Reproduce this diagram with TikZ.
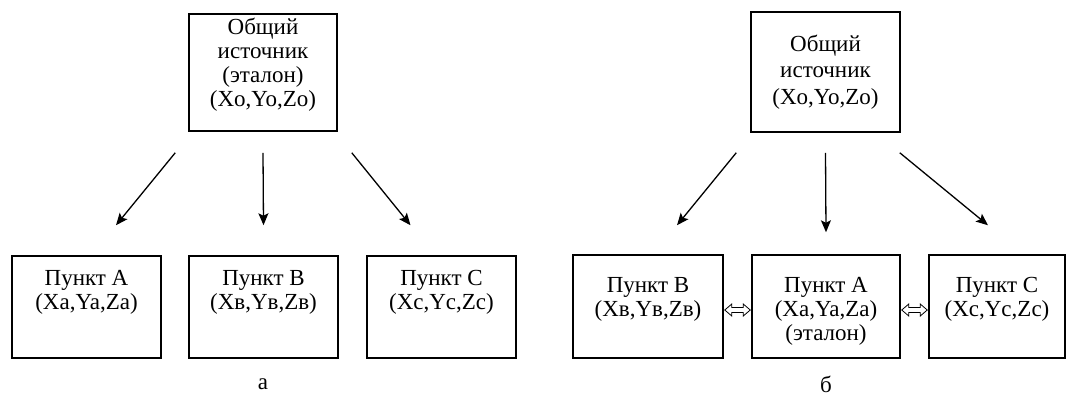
\documentclass[tikz,border=0pt]{standalone}
\usepackage{fontspec}
\setmainfont{Liberation Serif}
\usetikzlibrary{arrows.meta,calc}

\tikzset{
  box/.style={draw, line width=1.5pt, inner sep=0pt},
  boxtext/.style={align=center, inner sep=0pt,
    font=\fontsize{23}{24}\selectfont},
  widetext/.style={boxtext, font=\fontsize{23}{26.5}\selectfont},
  feed/.style={line width=1.3pt, -{Stealth[length=12pt,width=10pt,inset=2.5pt]}},
  hollow/.style={line width=0.8pt},
  caption/.style={font=\fontsize{23}{26}\selectfont, inner sep=0pt}
}

% outlined two-headed block arrow between two points on one level
\newcommand\linkarrow[2]{%
  \draw[hollow] let \p1=(#1), \p2=(#2) in
    (\x1,\y1) -- (\x1+7pt,\y1+6pt) -- (\x1+7pt,\y1+2.5pt) --
    (\x2-7pt,\y1+2.5pt) -- (\x2-7pt,\y1+6pt) -- (\x2,\y1) --
    (\x2-7pt,\y1-6pt) -- (\x2-7pt,\y1-2.5pt) -- (\x1+7pt,\y1-2.5pt) --
    (\x1+7pt,\y1-6pt) -- cycle;}

\begin{document}
\begin{tikzpicture}[x=1pt,y=-1pt]
\useasboundingbox (0,0) rectangle (1067,410);

% ---- scheme (а): common reference source ----
\node[box, minimum width=148pt, minimum height=117pt] (srcL) at (263,72.5) {};
\node[boxtext] (srcLt) at ($(srcL.center)+(0,-8)$)
  {Общий\\источник\\(эталон)\\(Xo,Yo,Zo)};
\node[box, minimum width=149pt, minimum height=102pt] (aL) at (86.5,307) {};
\node[box, minimum width=149pt, minimum height=102pt] (bL) at (263.5,307) {};
\node[box, minimum width=149pt, minimum height=102pt] (cL) at (441.5,307) {};
\node[boxtext] (aLt) at ($(aL.center)+(0,-15)$) {Пункт А\\(Xa,Ya,Za)};
\node[boxtext] (bLt) at ($(bL.center)+(0,-15)$) {Пункт В\\(Xв,Yв,Zв)};
\node[boxtext] (cLt) at ($(cL.center)+(0,-15)$) {Пункт С\\(Xc,Yc,Zc)};

\draw[feed] ($(srcL.south west)+(-13,21)$) -- ($(aL.north)+(29.5,-30)$);
\draw[feed] ($(srcL.south)+(0,21)$) -- ($(bL.north)+(0,-30)$);
\draw[feed] ($(srcL.south east)+(14,21)$) -- ($(cL.north)+(-31,-30)$);

\node[caption] (capA) at (263,384) {а};

% ---- scheme (б): point A as the reference ----
\node[box, minimum width=149pt, minimum height=120pt] (srcR) at (825.5,72) {};
\node[widetext] (srcRt) at (srcR.center) {Общий\\источник\\(Xo,Yo,Zo)};
\node[box, minimum width=150pt, minimum height=103pt] (bR) at (648,306.5) {};
\node[box, minimum width=148pt, minimum height=103pt] (aR) at (826,306.5) {};
\node[box, minimum width=136pt, minimum height=103pt] (cR) at (997,306.5) {};
\node[boxtext, anchor=north] (bRt) at ($(bR.north)+(0,23)$) {Пункт В\\(Xв,Yв,Zв)};
\node[boxtext, anchor=north] (aRt) at ($(aR.north)+(0,23)$) {Пункт А\\(Xa,Ya,Za)\\(эталон)};
\node[boxtext, anchor=north] (cRt) at ($(cR.north)+(0,23)$) {Пункт С\\(Xc,Yc,Zc)};

\draw[feed] ($(srcR.south west)+(-14,20)$) -- ($(bR.north)+(29,-29)$);
\draw[feed] ($(srcR.south)+(0,20)$) -- ($(aR.north)+(0,-22)$);
\draw[feed] ($(srcR.south east)+(-1,20)$) -- ($(cR.north)+(-9,-29)$);

\linkarrow{$(bR.east)+(1,3.5)$}{$(aR.west)+(-1,3.5)$}
\linkarrow{$(aR.east)+(1,3.5)$}{$(cR.west)+(-1,3.5)$}

\node[caption] (capB) at (826,384) {б};
\end{tikzpicture}
\end{document}
